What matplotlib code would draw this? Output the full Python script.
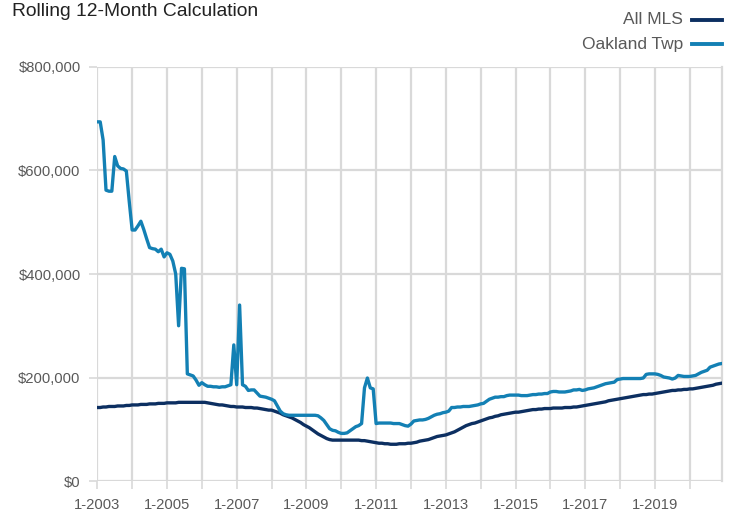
import matplotlib
matplotlib.use("Agg")
import matplotlib.pyplot as plt
from matplotlib.lines import Line2D
from matplotlib.ticker import FuncFormatter

plt.rcParams['font.family'] = ['Liberation Sans', 'DejaVu Sans']

start_year = 2003
end_year = 2020

# Monthly rolling 12-month values (thousands of $), Jan 2003 .. Dec 2020
oakland_twp = [
    # 2003
    694, 694, 659, 562, 560, 560, 627, 609, 604, 603, 599, 540,
    # 2004
    485, 485, 493, 502, 486, 468, 451, 449, 448, 443, 448, 433,
    # 2005
    441, 438, 425, 400, 300, 411, 410, 207, 205, 203, 195, 185,
    # 2006
    190, 186, 183, 183, 182, 182, 181, 182, 182, 184, 186, 263,
    # 2007
    186, 340, 186, 183, 175, 176, 176, 170, 164, 163, 162, 160,
    # 2008
    158, 155, 145, 135, 130, 128, 127, 127, 127, 127, 127, 127,
    # 2009
    127, 127, 127, 127, 126, 122, 117, 109, 101, 98, 97, 94,
    # 2010
    92, 92, 93, 97, 101, 105, 107, 111, 180, 199, 180, 178,
    # 2011
    111, 112, 112, 112, 112, 112, 111, 111, 111, 109, 107, 106,
    # 2012
    110, 116, 117, 118, 118, 119, 121, 124, 127, 129, 130, 132,
    # 2013
    133, 135, 142, 142, 143, 143, 144, 144, 144, 145, 146, 147,
    # 2014
    149, 150, 154, 158, 160, 162, 162, 163, 163, 165, 166, 166,
    # 2015
    166, 166, 165, 165, 165, 166, 167, 167, 168, 168, 169, 169,
    # 2016
    172, 173, 173, 172, 172, 172, 173, 174, 176, 176, 177, 175,
    # 2017
    176, 178, 179, 180, 182, 184, 186, 188, 189, 190, 191, 196,
    # 2018
    197, 198, 198, 198, 198, 198, 198, 198, 199, 206, 207, 207,
    # 2019
    207, 206, 204, 201, 200, 199, 197, 199, 204, 203, 202, 202,
    # 2020
    202, 203, 204, 207, 210, 212, 214, 220, 222, 224, 226, 227,
]

all_mls = [
    # 2003
    142, 142, 143, 143, 144, 144, 144, 145, 145, 145, 146, 146,
    # 2004
    147, 147, 147, 148, 148, 148, 149, 149, 149, 150, 150, 150,
    # 2005
    151, 151, 151, 151, 152, 152, 152, 152, 152, 152, 152, 152,
    # 2006
    152, 152, 151, 150, 149, 148, 147, 147, 146, 145, 144, 144,
    # 2007
    143, 143, 143, 142, 142, 142, 141, 141, 140, 139, 138, 137,
    # 2008
    137, 135, 133, 131, 128, 126, 124, 122, 119, 116, 113, 109,
    # 2009
    106, 103, 99, 95, 91, 88, 85, 82, 80, 79, 79, 79,
    # 2010
    79, 79, 79, 79, 79, 79, 79, 78, 78, 77, 76, 75,
    # 2011
    74, 73, 73, 72, 72, 71, 71, 71, 72, 72, 72, 73,
    # 2012
    73, 74, 75, 77, 78, 79, 80, 82, 84, 86, 87, 88,
    # 2013
    89, 91, 93, 95, 98, 101, 104, 107, 109, 111, 112, 114,
    # 2014
    116, 118, 120, 122, 123, 125, 126, 128, 129, 130, 131, 132,
    # 2015
    133, 133, 134, 135, 136, 137, 138, 138, 139, 139, 140, 140,
    # 2016
    140, 141, 141, 141, 141, 142, 142, 142, 143, 143, 144, 145,
    # 2017
    146, 147, 148, 149, 150, 151, 152, 153, 155, 156, 157, 158,
    # 2018
    159, 160, 161, 162, 163, 164, 165, 166, 167, 167, 168, 168,
    # 2019
    169, 170, 171, 172, 173, 174, 175, 175, 176, 176, 177, 177,
    # 2020
    178, 178, 179, 180, 181, 182, 183, 184, 185, 187, 188, 189,
]

series_names = ["All MLS", "Oakland Twp"]
series_colors = ["#0c2f61", "#1380b4"]

y_ticks = [0, 200000, 400000, 600000, 800000]
tick_years = list(range(start_year, end_year + 1))
label_years = [y for y in tick_years if (y - start_year) % 2 == 0]

months = list(range(len(oakland_twp)))

fig = plt.figure(figsize=(7.32, 5.15), dpi=100)
ax = fig.add_axes([97.3 / 732, 34 / 515, (721.7 - 97.3) / 732, (481 - 67) / 515])

ax.plot(months, [v * 1000 for v in all_mls], color=series_colors[0], lw=2.4,
        solid_joinstyle='round', zorder=3)
ax.plot(months, [v * 1000 for v in oakland_twp], color=series_colors[1], lw=2.4,
        solid_joinstyle='round', zorder=4)

grid_c = "#d9d9d9"
ax.set_yticks(y_ticks)
ax.yaxis.set_major_formatter(FuncFormatter(lambda v, p: f"${int(v):,}"))
xt = [(y - start_year) * 12 for y in tick_years]
ax.set_xticks(xt)
ax.set_xticklabels([f"1-{y}" if y in label_years else "" for y in tick_years])

ax.grid(True, color=grid_c, lw=1.6, zorder=0)
ax.set_axisbelow(True)
for s in ["top", "left", "bottom"]:
    ax.spines[s].set_visible(False)
ax.spines["right"].set_color(grid_c)
ax.spines["right"].set_linewidth(1.6)

ax.tick_params(axis='both', colors=grid_c, labelcolor="#595959", labelsize=10.6,
               length=6, width=1.2)
ax.tick_params(axis='x', pad=6)
ax.tick_params(axis='y', pad=6)
ax.set_xlim(0, len(months) - 1)
ax.set_ylim(0, 800000)

fig.text(12 / 732, 1 - 12 / 515, "Rolling 12-Month Calculation", fontsize=13.9,
         color="#222222", ha="left", va="center")

# legend
leg_y = [20, 44]
for name, col, yy in zip(series_names, series_colors, leg_y):
    yf = 1 - yy / 515
    fig.text(683 / 732, yf, name, fontsize=12.5, color="#595959", ha="right", va="center")
    fig.add_artist(Line2D([692 / 732, 722 / 732], [yf, yf], color=col, lw=2.8,
                          transform=fig.transFigure))

fig.savefig("out.png", dpi=100)
